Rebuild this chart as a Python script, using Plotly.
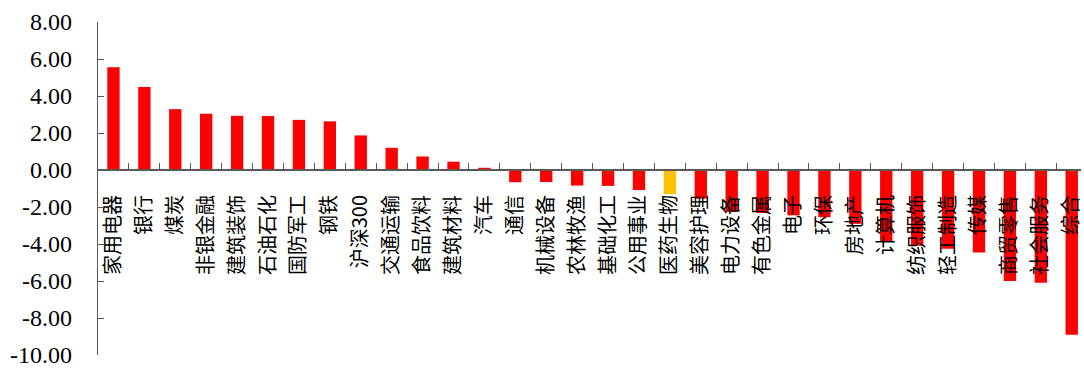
import plotly.graph_objects as go

categories = ["家用电器", "银行", "煤炭", "非银金融", "建筑装饰", "石油石化", "国防军工", "钢铁",
              "沪深300", "交通运输", "食品饮料", "建筑材料", "汽车", "通信", "机械设备", "农林牧渔",
              "基础化工", "公用事业", "医药生物", "美容护理", "电力设备", "有色金属", "电子", "环保",
              "房地产", "计算机", "纺织服饰", "轻工制造", "传媒", "商贸零售", "社会服务", "综合"]
values = [5.56, 4.48, 3.29, 3.04, 2.93, 2.92, 2.71, 2.63,
          1.87, 1.20, 0.73, 0.45, 0.12, -0.66, -0.65, -0.84,
          -0.86, -1.08, -1.30, -1.55, -2.27, -2.32, -2.45, -2.55,
          -2.91, -3.85, -4.10, -4.25, -4.46, -6.00, -6.09, -8.91]
highlight = "医药生物"
y_ticks = [8, 6, 4, 2, 0, -2, -4, -6, -8, -10]
y_tick_text = [f"{v:.2f}" for v in y_ticks]

colors = ["#FFC000" if c == highlight else "#FF0000" for c in categories]

y_min, y_max = -10, 8

fig = go.Figure(go.Bar(x=categories, y=values, marker=dict(color=colors, line=dict(width=0)),
                       width=0.4))

fig.update_layout(
    width=1084, height=368,
    margin=dict(l=98, r=0, t=22, b=10),
    paper_bgcolor="white", plot_bgcolor="white",
    showlegend=False,
)

fig.update_yaxes(
    range=[y_min, y_max], tickvals=y_ticks, ticktext=y_tick_text,
    showgrid=False, zeroline=False,
    showline=True, linecolor="#595959", linewidth=1.3,
    ticks="inside", ticklen=6, tickcolor="#595959", tickwidth=1.3,
    tickfont=dict(family="Liberation Serif, Times New Roman, serif", size=24, color="black"),
    ticklabelstandoff=20,
    ticklabeloverflow="allow",
)

fig.update_xaxes(
    type="category",
    range=[-0.5, 31.3],
    anchor="free", position=(0 - y_min) / (y_max - y_min),
    showgrid=False, zeroline=False,
    showline=True, linecolor="#595959", linewidth=2,
    ticks="inside", ticklen=6, tickcolor="#595959", tickwidth=1.3,
    tickson="boundaries",
    tickangle=-90,
    tickfont=dict(family="Noto Sans CJK SC, sans-serif", size=20, color="black"),
    ticklabelstandoff=16,
)

fig.write_html("out.html")
